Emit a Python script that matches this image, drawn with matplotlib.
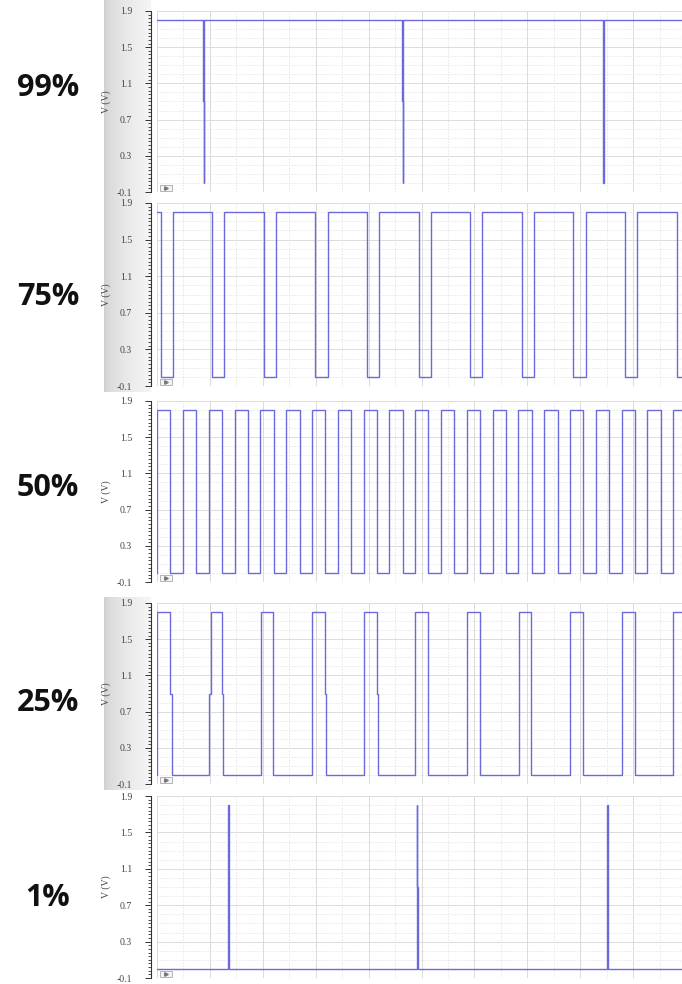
import numpy as np
import matplotlib
matplotlib.use("Agg")
import matplotlib.pyplot as plt
from matplotlib.patches import Rectangle

# ---------------- data ----------------
duty_labels = ["99%", "75%", "50%", "25%", "1%"]
v_high = 1.8
v_low = 0.0
v_mid = 0.9

# edge times in grid divisions
fall_99 = [0.862, 4.629, 8.429]
rise_99 = [0.892, 4.659, 8.449]
start_99 = v_high
notch_99 = [0.862, 4.629]

fall_75 = [0.068, 1.043, 2.019, 2.994, 3.970, 4.945, 5.921, 6.896, 7.871, 8.847, 9.822]
rise_75 = [0.298, 1.273, 2.249, 3.224, 4.200, 5.175, 6.151, 7.126, 8.101, 9.077]
start_75 = v_high
notch_75 = []

rise_50 = [0.004, 0.492, 0.979, 1.467, 1.955, 2.443, 2.930, 3.418, 3.906, 4.393, 4.881,
           5.369, 5.857, 6.344, 6.832, 7.320, 7.807, 8.295, 8.783, 9.271, 9.758]
fall_50 = [0.255, 0.743, 1.230, 1.718, 2.206, 2.694, 3.181, 3.669, 4.157, 4.644,
           5.132, 5.620, 6.108, 6.595, 7.083, 7.571, 8.058, 8.546, 9.034, 9.522]
start_50 = v_low
notch_50 = []

rise_25 = [0.008, 0.983, 1.959, 2.934, 3.910, 4.885, 5.861, 6.836, 7.811, 8.787, 9.762]
fall_25 = [0.248, 1.223, 2.199, 3.174, 4.150, 5.125, 6.101, 7.076, 8.051, 9.027]
start_25 = v_low
notch_25 = [0.248, 0.983, 1.223, 3.174, 4.150]

rise_1 = [1.335, 4.907, 8.499]
fall_1 = [1.355, 4.908, 8.519]
start_1 = v_low
notch_1 = [4.908]

panels = [
    (rise_99, fall_99, start_99, notch_99),
    (rise_75, fall_75, start_75, notch_75),
    (rise_50, fall_50, start_50, notch_50),
    (rise_25, fall_25, start_25, notch_25),
    (rise_1, fall_1, start_1, notch_1),
]
gray_band = [True, True, False, True, False]

y_ticks = [-0.1, 0.3, 0.7, 1.1, 1.5, 1.9]
x_max = 9.924

# ---------------- layout ----------------
W, H = 682, 984
fig = plt.figure(figsize=(W / 100, H / 100), dpi=100)
fig.patch.set_facecolor("white")

panel_px = [(11, 192), (203, 386), (401, 582), (603, 784), (796, 978)]
band_px = [(0, 196), (196, 392), None, (597, 790), None]
label_y_px = [88, 297, 488, 703, 898]
ax_left_px = 157

line_color = "#6a6adc"
serif = ["Liberation Serif", "DejaVu Serif"]


def build_wave(rises, falls, start, notches, dn=0.03):
    edges = sorted([(t, 0 if k == "r" else 1, k) for t in rises for k in ["r"]] +
                   [(t, 1, "f") for t in falls])
    xs = [0.0]
    ys = [start]
    level = start
    for t, _, kind in edges:
        new = v_high if kind == "r" else v_low
        if any(abs(t - n) < 1e-6 for n in notches):
            xs += [t, t, t + dn, t + dn]
            ys += [level, v_mid, v_mid, new]
        else:
            xs += [t, t]
            ys += [level, new]
        level = new
    xs.append(x_max + 1)
    ys.append(level)
    return xs, ys


grad = np.linspace(0.0, 1.0, 256)
grad = 0.80 + 0.16 * np.sqrt(grad)
grad_img = np.tile(grad, (2, 1))

for i, (rises, falls, start, notches) in enumerate(panels):
    top, bot = panel_px[i]
    if gray_band[i]:
        bt, bb = band_px[i]
        bax = fig.add_axes([104 / W, 1 - bb / H, (151 - 104) / W, (bb - bt) / H], zorder=0)
        bax.imshow(grad_img, cmap="gray", vmin=0, vmax=1, aspect="auto",
                   extent=[0, 1, 0, 1])
        bax.set_axis_off()

    ax = fig.add_axes([ax_left_px / W, 1 - bot / H, (W - ax_left_px) / W, (bot - top) / H],
                      zorder=2)
    ax.set_facecolor("white")
    xs, ys = build_wave(rises, falls, start, notches)
    ax.plot(xs, ys, color=line_color, lw=1.0, solid_joinstyle="miter", zorder=3)

    ax.set_xlim(0, x_max)
    ax.set_ylim(-0.1, 1.9)

    for v in np.arange(-0.1, 1.95, 0.1):
        major = any(abs(v - t) < 1e-6 for t in y_ticks)
        ax.axhline(v, color="#dcdcdc" if major else "#e8e8e8",
                   lw=0.7, ls="-" if major else (0, (1.5, 1.5)), zorder=1)
    for xv in np.arange(0, x_max + 0.01, 0.5):
        major = abs(xv - round(xv)) < 1e-6
        ax.axvline(xv, color="#dadada" if major else "#e6e6e6",
                   lw=0.7, ls="-" if major else (0, (1.5, 1.5)), zorder=1)

    for s in ["top", "right", "bottom"]:
        ax.spines[s].set_visible(False)
    ax.spines["left"].set_position(("outward", 4))
    ax.spines["left"].set_color("#333333")
    ax.spines["left"].set_linewidth(0.8)
    ax.set_xticks([])
    ax.set_yticks(y_ticks)
    ax.set_yticks(np.arange(-0.1, 1.91, 0.04), minor=True)
    ax.set_yticklabels([f"{t:.1f}" for t in y_ticks], fontfamily=serif, fontsize=7,
                       color="#444444")
    ax.tick_params(axis="y", which="major", length=4, width=0.7, color="#333333", pad=10)
    ax.tick_params(axis="y", which="minor", length=2.5, width=0.6, color="#333333")
    ax.set_ylabel("V (V)", fontfamily=serif, fontsize=7, color="#444444")
    ax.yaxis.set_label_coords((111 - ax_left_px) / (W - ax_left_px), 0.5)

    ax.add_patch(Rectangle((0.006, 0.004), 0.022, 0.035, transform=ax.transAxes,
                           facecolor="#f4f4f4", edgecolor="#aaaaaa", lw=0.6,
                           zorder=4, clip_on=False))
    ax.plot([0.017], [0.021], marker=">", ms=2.5, color="#777777",
            transform=ax.transAxes, zorder=5, clip_on=False)

    fig.text(48 / W, 1 - label_y_px[i] / H, duty_labels[i], ha="center", va="center",
             fontsize=22, fontweight="bold", family=["Open Sans", "DejaVu Sans"],
             color="#111111")

fig.savefig("out.png", dpi=100)
